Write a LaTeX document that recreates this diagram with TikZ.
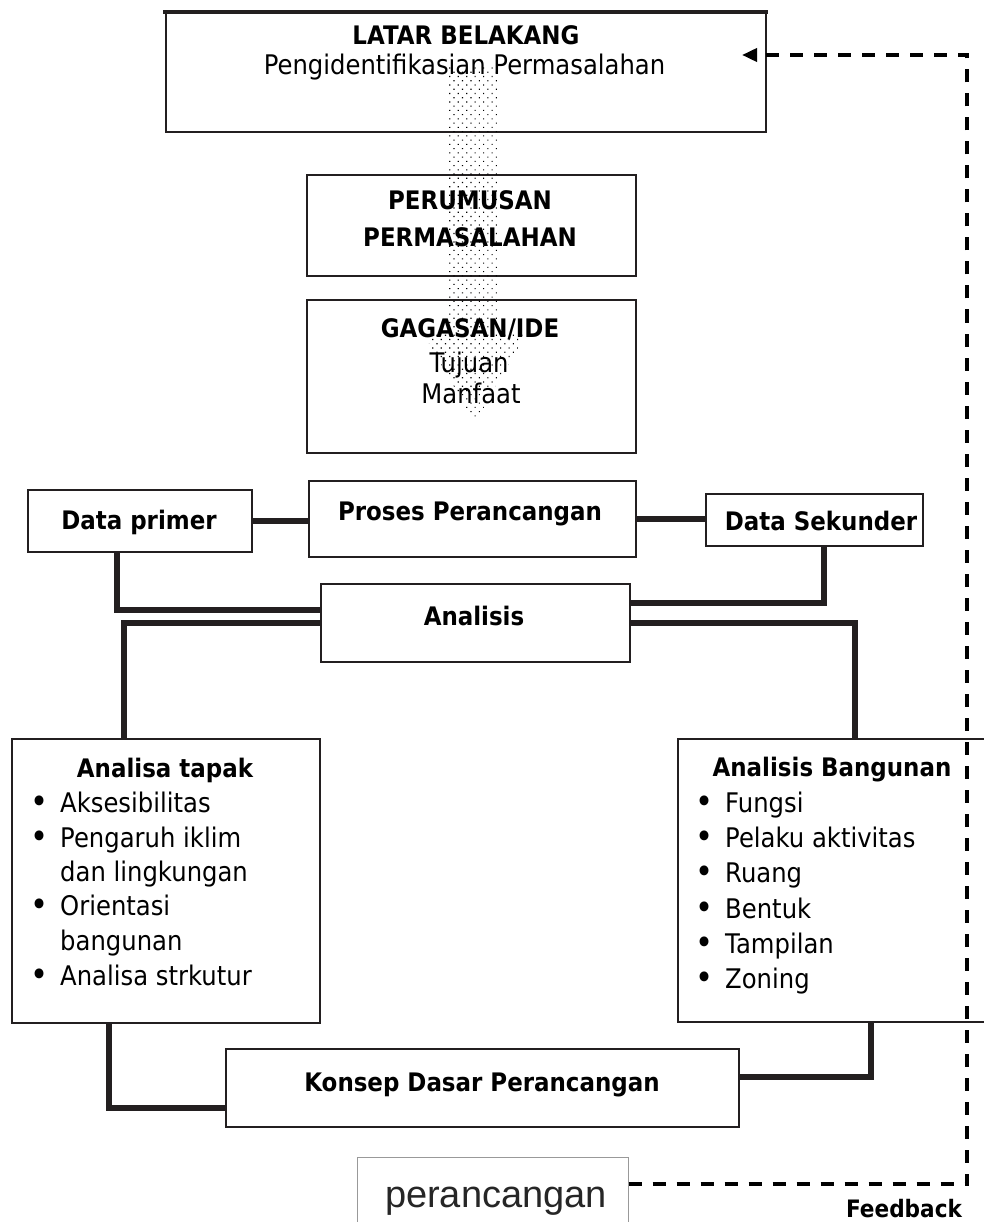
\documentclass[tikz,border=0pt]{standalone}
\usepackage{fontspec}
\setmainfont{DejaVu Sans}[FakeStretch=0.9]
\newfontfamily\arialfont{Liberation Sans}
\usetikzlibrary{patterns.meta,arrows.meta,calc}
\definecolor{ink}{HTML}{231F20}
\begin{document}
\begin{tikzpicture}[x=1pt,y=-1pt,
  box/.style={draw=ink,line width=1.9pt,inner sep=0pt,outer sep=0pt},
  conn/.style={draw=ink,line width=6pt,line join=miter},
  fb/.style={draw=black,line width=3.6pt,dash pattern=on 13pt off 11pt},
  bt/.style={inner sep=0pt,anchor=base,font=\fontsize{25.5}{30}\selectfont\bfseries},
  rt/.style={inner sep=0pt,anchor=base,font=\fontsize{27}{32}\selectfont},
  lt/.style={inner sep=0pt,anchor=base west,font=\fontsize{27}{32}\selectfont},
  bul/.style={inner sep=0pt,anchor=base,font=\fontsize{34}{32}\selectfont}]
\useasboundingbox (0,0) rectangle (983,1222);
\fill[white] (0,0) rectangle (983,1222);

% boxes
\node[box,minimum width=600pt,minimum height=119pt] (top) at (466,72.5) {};
\draw[ink,line width=4pt] (163,12) -- (768,12);
\node[box,minimum width=329pt,minimum height=101pt] (perum) at (471.5,225.5) {};
\node[box,minimum width=329pt,minimum height=153pt] (gagas) at (471.5,376.5) {};
\node[box,minimum width=224pt,minimum height=62pt] (dprimer) at (140,521) {};
\node[box,minimum width=327pt,minimum height=76pt] (proses) at (472.5,519) {};
\node[box,minimum width=217pt,minimum height=52pt] (dsek) at (814.5,520) {};
\node[box,minimum width=309pt,minimum height=78pt] (analisis) at (475.5,623) {};
\node[box,minimum width=308pt,minimum height=284pt] (tapak) at (166,881) {};
\node[box,minimum width=312pt,minimum height=283pt] (bangunan) at (834,880.5) {};
\node[box,minimum width=513pt,minimum height=78pt] (konsep) at (482.5,1088) {};
\node[draw=black!40,line width=1pt,inner sep=0pt,minimum width=271pt,minimum height=80pt] (peranc) at (492.5,1197) {};

% connectors
\draw[conn] (dprimer.east) -- (dprimer.east -| proses.west);
\draw[conn] (proses.east) -- (proses.east -| dsek.west);
\draw[conn] ([xshift=-23pt]dprimer.south) |- ([yshift=13pt]analisis.west);
\draw[conn] ([xshift=9.5pt]dsek.south) |- ([yshift=20pt]analisis.east);
\draw[conn] (analisis.west) -| ([xshift=-42pt]tapak.north);
\draw[conn] (analisis.east) -| ([xshift=21pt]bangunan.north);
\draw[conn] ([xshift=-57pt]tapak.south) |- ([yshift=-20pt]konsep.west);
\draw[conn] ([xshift=37pt]bangunan.south) |- ([yshift=11pt]konsep.east);

% texts
\node[bt] (t1) at (466,45) {LATAR BELAKANG};
\node[rt] (t2) at (464.5,75) {Pengidentifikasian Permasalahan};
\node[bt] (t3) at (470,210) {PERUMUSAN};
\node[bt] (t4) at (470,247) {PERMASALAHAN};
\node[bt] (t5) at (470,337) {GAGASAN/IDE};
\node[rt] (t6) at (469,372) {Tujuan};
\node[rt] (t7) at (471,403) {Manfaat};
\node[bt] (t8) at (139,529) {Data primer};
\node[bt] (t9) at (470,520) {Proses Perancangan};
\node[bt] (t10) at (821,530) {Data Sekunder};
\node[bt] (t11) at (474,625) {Analisis};
\node[bt] (t12) at (482,1091) {Konsep Dasar Perancangan};

\node[bt] (ta0) at (165,777) {Analisa tapak};
\node[bul] (tb1) at (40,813) {•};
\node[lt] (ta1) at (60,812) {Aksesibilitas};
\node[bul] (tb2) at (40,848) {•};
\node[lt] (ta2) at (60,847) {Pengaruh iklim};
\node[lt] (ta3) at (60,881) {dan lingkungan};
\node[bul] (tb4) at (40,916) {•};
\node[lt] (ta4) at (60,915) {Orientasi};
\node[lt] (ta5) at (60,950) {bangunan};
\node[bul] (tb6) at (40,986) {•};
\node[lt] (ta6) at (60,985) {Analisa strkutur};

\node[bt] (ba0) at (832,776) {Analisis Bangunan};
\foreach \y/\s [count=\i] in {812/Fungsi,847/Pelaku aktivitas,882/Ruang,918/Bentuk,953/Tampilan,988/Zoning}{
  \node[bul] (bb\i) at (705,\y+1) {•};
  \node[lt] (ba\i) at (725,\y) {\s};
}

\node[inner sep=0pt,anchor=base,font=\fontsize{38}{44}\selectfont\arialfont,text=black!85] (t13) at (496,1207) {perancangan};
\node[inner sep=0pt,anchor=base,font=\fontsize{24}{28}\selectfont\bfseries] (t14) at (904,1217) {Feedback};

% stippled arrow
\fill[pattern={Dots[radius=0.8pt,distance=6pt,angle=45]},pattern color=black]
  (448,66) -- (448,333) -- (423,333) -- (475,423) -- (527,333) -- (498,333) -- (498,66) -- cycle;

% feedback
\coordinate (fbc1) at (967,1184);
\coordinate (fbc2) at (967,55);
\coordinate (fbtip) at (742,55);
\draw[fb,-{Triangle[length=15pt,width=13pt]}] ([yshift=13pt]peranc.east) -- (fbc1) -- (fbc2) -- (fbtip);
\end{tikzpicture}
\end{document}
